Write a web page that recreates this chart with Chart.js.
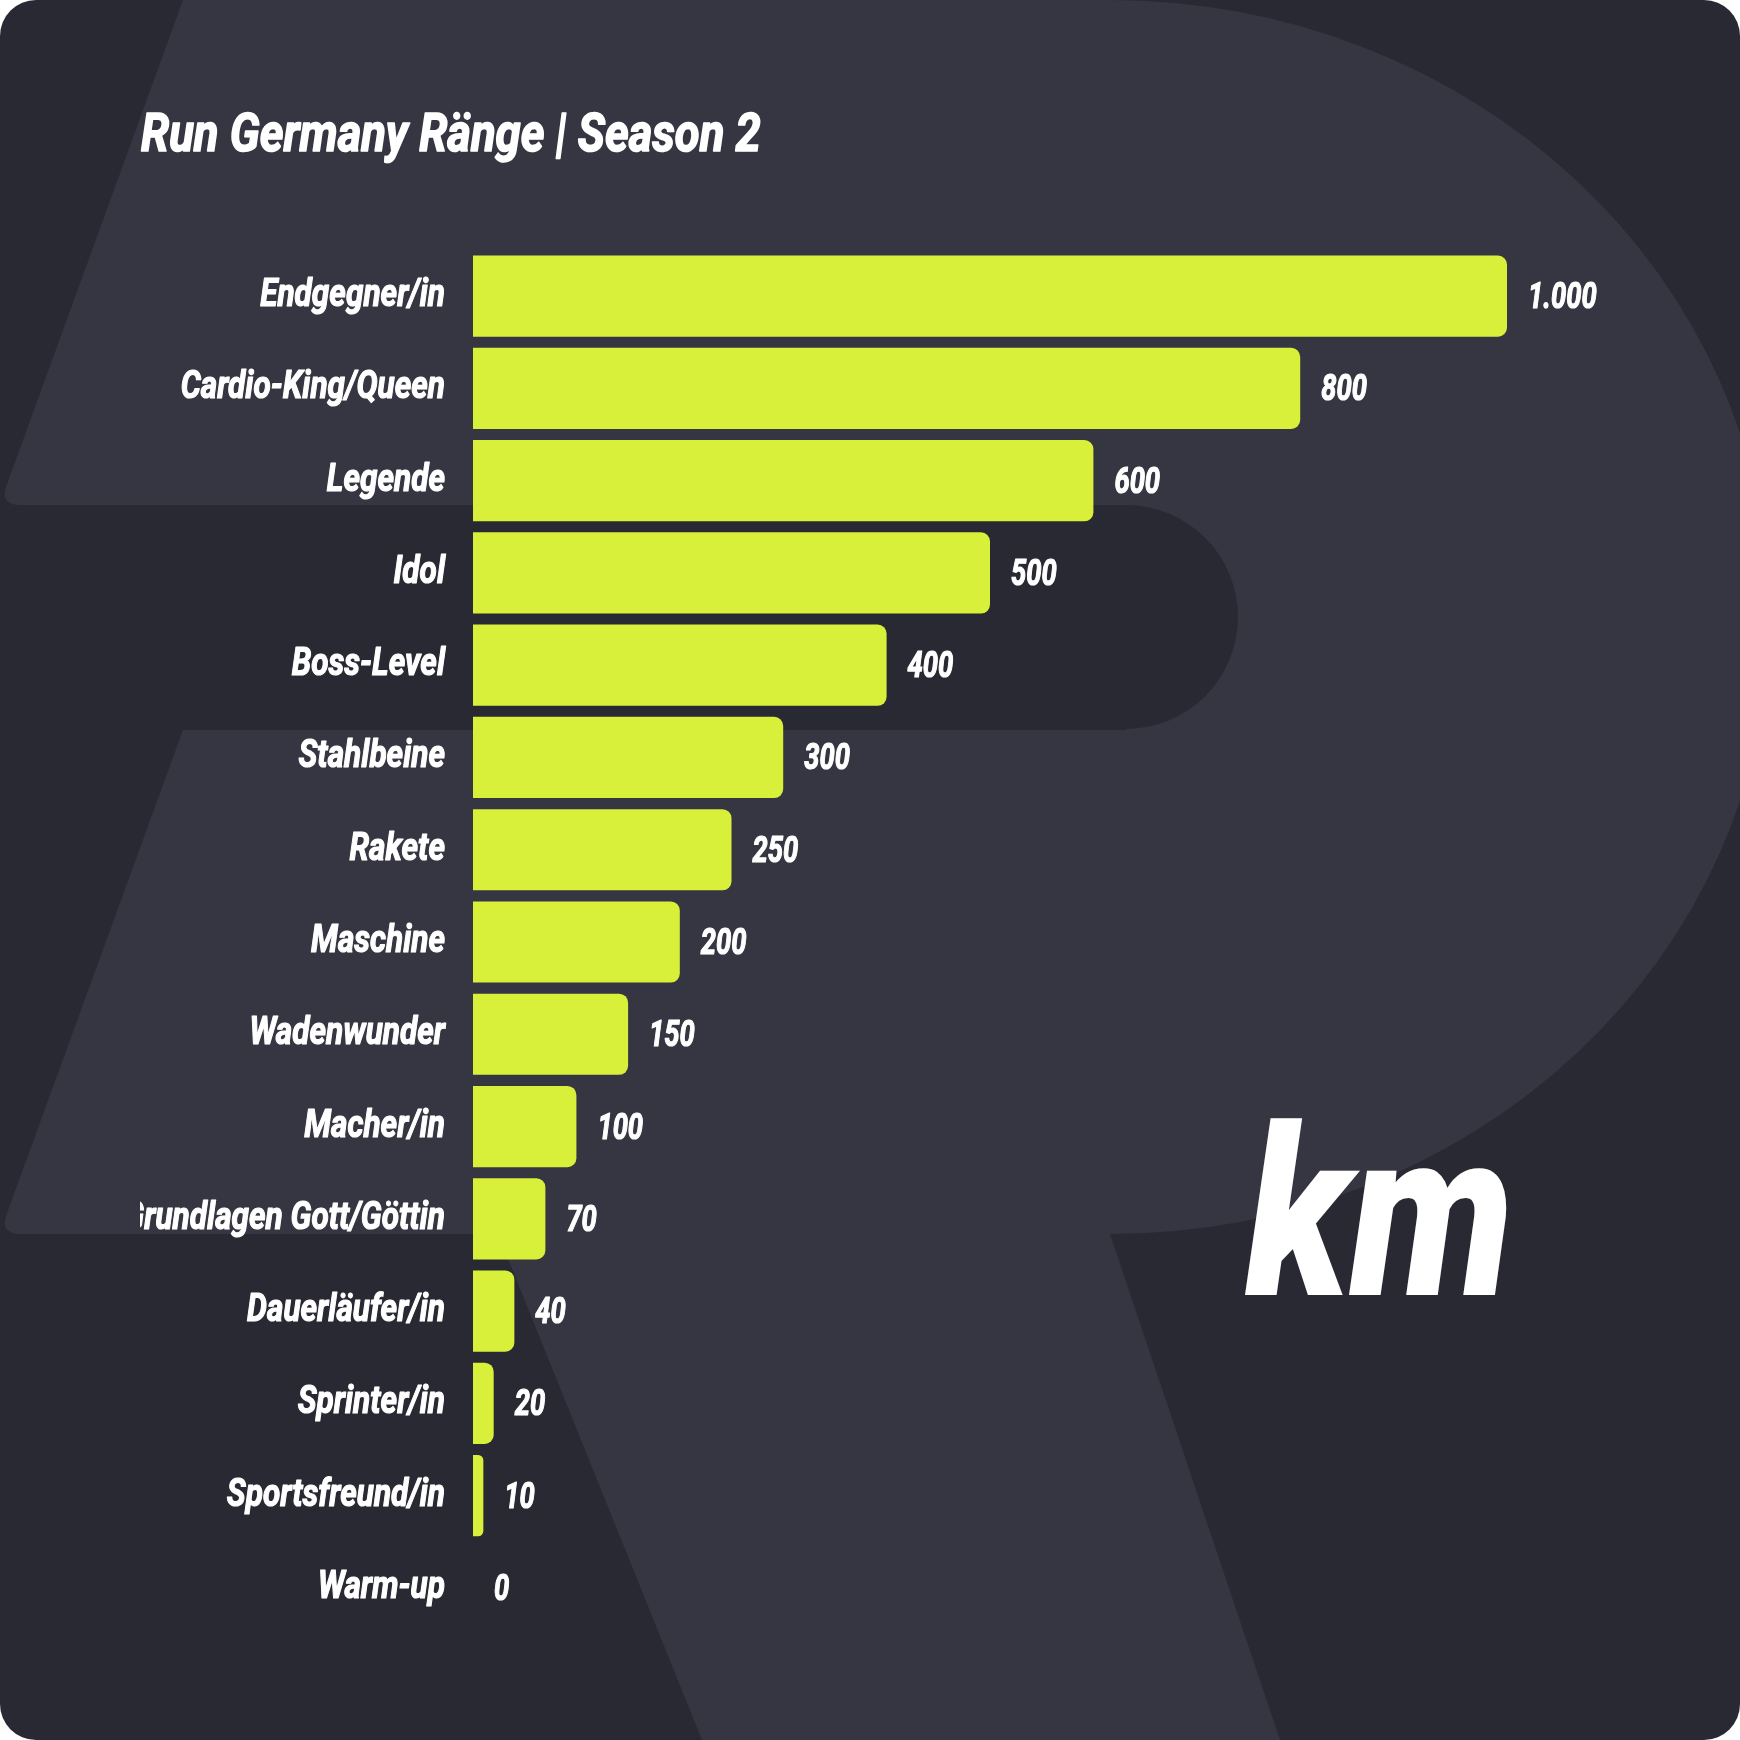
<!DOCTYPE html>
<html>
<head>
<meta charset="utf-8">
<script src="https://cdn.jsdelivr.net/npm/chart.js@4.4.0/dist/chart.umd.min.js"></script>
<style>
    html, body { margin: 0; padding: 0; background: #ffffff; }
    #wrap { width: 1740px; height: 1740px; }
</style>
</head>
<body>
<div id="wrap"><canvas id="chart1" width="1740" height="1740"></canvas></div>
<script>
// data
const rankNames = [
    'Endgegner/in',
    'Cardio-King/Queen',
    'Legende',
    'Idol',
    'Boss-Level',
    'Stahlbeine',
    'Rakete',
    'Maschine',
    'Wadenwunder',
    'Macher/in',
    'Grundlagen Gott/Göttin',
    'Dauerläufer/in',
    'Sprinter/in',
    'Sportsfreund/in',
    'Warm-up'
];
const rankKm = [1000, 800, 600, 500, 400, 300, 250, 200, 150, 100, 70, 40, 20, 10, 0];

const chartTitle = 'Run Germany Ränge | Season 2';
const unitLabel = 'km';

const fontStack = "Roboto, 'DejaVu Sans', sans-serif";
const lime = '#d9f03a';

function formatKm(v) {
    // german thousands separator
    return String(v).replace(/\B(?=(\d{3})+(?!\d))/g, '.');
}

// no condensed font installed, so text is squeezed horizontally
// and thickened a little with a stroke
function drawCondensed(ctx, text, x, y, align, squeeze, thick) {
    ctx.save();
    ctx.translate(x, y);
    ctx.scale(squeeze, 1);
    ctx.textAlign = align;
    ctx.lineJoin = 'round';
    ctx.lineWidth = thick;
    ctx.strokeStyle = ctx.fillStyle;
    ctx.strokeText(text, 0, 0);
    ctx.fillText(text, 0, 0);
    ctx.restore();
}

// background with the big R
const backgroundPlugin = {
    id: 'rBackground',
    beforeDraw(chart) {
        const ctx = chart.ctx;
        const w = chart.width, h = chart.height;
        ctx.save();
        ctx.fillStyle = '#ffffff';
        ctx.fillRect(0, 0, w, h);

        ctx.beginPath();
        ctx.roundRect(0, 0, w, h, 36);
        ctx.clip();
        ctx.fillStyle = '#292933';
        ctx.fillRect(0, 0, w, h);

        ctx.beginPath();
        ctx.moveTo(183, 0);
        ctx.lineTo(1110, 0);
        ctx.ellipse(1110, 617, 660, 617, 0, -Math.PI / 2, Math.PI / 2);
        ctx.lineTo(1280, 1740);
        ctx.lineTo(702, 1740);
        ctx.lineTo(498, 1234);
        ctx.lineTo(22, 1234);
        ctx.quadraticCurveTo(0, 1234, 6, 1216);
        ctx.lineTo(183, 730);
        ctx.lineTo(1126, 730);
        ctx.arc(1126, 617, 112, Math.PI / 2, -Math.PI / 2, true);
        ctx.lineTo(22, 505);
        ctx.quadraticCurveTo(0, 505, 6, 487);
        ctx.closePath();
        ctx.fillStyle = '#363642';
        ctx.fill();
        ctx.restore();
    }
};

// category names left of the bars
const categoryLabelPlugin = {
    id: 'categoryLabels',
    afterDraw(chart) {
        const ctx = chart.ctx;
        const yScale = chart.scales.y;
        const left = chart.chartArea.left;
        ctx.save();
        ctx.beginPath();
        ctx.rect(140, 0, chart.width - 140, chart.height);
        ctx.clip();
        ctx.fillStyle = '#ffffff';
        ctx.textBaseline = 'alphabetic';
        ctx.font = 'italic bold 39px ' + fontStack;
        rankNames.forEach((name, i) => {
            drawCondensed(ctx, name, left - 28, yScale.getPixelForTick(i) + 10, 'right', 0.81, 1.2);
        });
        ctx.restore();
    }
};

// value labels right of the bars
const valueLabelPlugin = {
    id: 'valueLabels',
    afterDatasetsDraw(chart) {
        const ctx = chart.ctx;
        const meta = chart.getDatasetMeta(0);
        ctx.save();
        ctx.fillStyle = '#ffffff';
        ctx.font = 'italic bold 36px ' + fontStack;
        ctx.textBaseline = 'alphabetic';
        meta.data.forEach((bar, i) => {
            drawCondensed(ctx, formatKm(rankKm[i]), bar.x + 21, bar.y + 12, 'left', 0.76, 1.2);
        });
        ctx.restore();
    }
};

// title and big unit text
const decorPlugin = {
    id: 'decor',
    afterDraw(chart) {
        const ctx = chart.ctx;
        ctx.save();
        ctx.fillStyle = '#ffffff';
        ctx.textBaseline = 'alphabetic';
        ctx.font = 'italic bold 54px ' + fontStack;
        drawCondensed(ctx, chartTitle, 141, 151, 'left', 0.84, 1.6);

        ctx.font = 'italic 900 236px Roboto, sans-serif';
        const kmWidth = ctx.measureText(unitLabel).width;
        ctx.translate(1246, 1295);
        ctx.scale(268 / kmWidth, 1);
        ctx.fillText(unitLabel, 0, 0);
        ctx.restore();
    }
};

const data = {
    labels: rankNames,
    datasets: [{
        label: 'km',
        data: rankKm,
        backgroundColor: lime,
        borderWidth: 0,
        borderRadius: 9,
        borderSkipped: 'start',
        categoryPercentage: 1,
        barPercentage: 0.88
    }]
};

const config = {
    type: 'bar',
    data: data,
    options: {
        indexAxis: 'y',
        responsive: false,
        animation: false,
        devicePixelRatio: 1,
        layout: {
            padding: { left: 140, right: 233, top: 250, bottom: 106 }
        },
        plugins: {
            legend: { display: false },
            title: { display: false },
            tooltip: { enabled: false }
        },
        scales: {
            x: {
                display: false,
                min: 0,
                max: 1000
            },
            y: {
                grid: { display: false },
                border: { display: false },
                ticks: { display: false },
                afterFit: function (scale) {
                    scale.width = 333;
                }
            }
        }
    },
    plugins: [backgroundPlugin, valueLabelPlugin, categoryLabelPlugin, decorPlugin]
};

const chart1 = new Chart(document.getElementById('chart1'), config);
</script>
</body>
</html>
